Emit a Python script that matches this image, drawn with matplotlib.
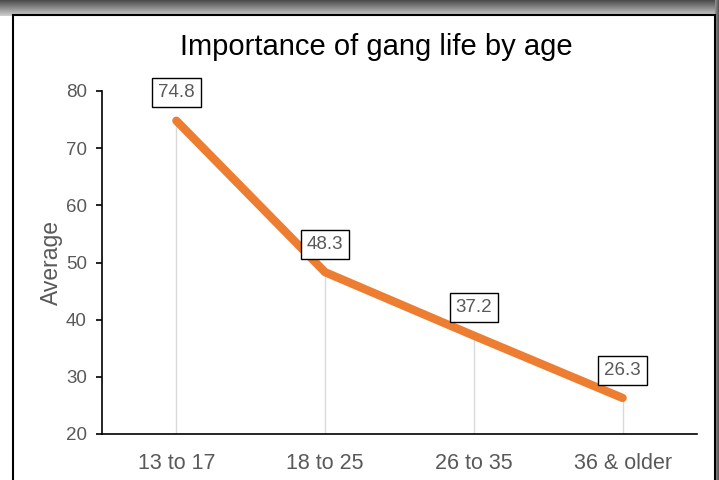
import matplotlib
matplotlib.use("Agg")
import matplotlib.pyplot as plt
import numpy as np
from matplotlib.patches import Rectangle

categories = ["13 to 17", "18 to 25", "26 to 35", "36 & older"]
averages = [74.8, 48.3, 37.2, 26.3]
y_ticks = [20, 30, 40, 50, 60, 70, 80]

plt.rcParams["font.family"] = ["Liberation Sans", "DejaVu Sans"]
GRAY = "#595959"
ORANGE = "#ED7D31"

fig = plt.figure(figsize=(7.19, 4.80), dpi=100)

# background: dark shadow at top/right, white card with black border
bg = fig.add_axes([0, 0, 1, 1], zorder=-10)
bg.axis("off")
grad = np.linspace(0.30, 0.80, 16)[:, None] * np.ones((1, 719))
bg.imshow(np.dstack([grad] * 3), extent=(0, 719, 16, 0), aspect="auto")
rgrad = np.ones((480, 1)) * np.linspace(0.55, 0.35, 4)[None, :]
bg.imshow(np.dstack([rgrad] * 3), extent=(715, 719, 480, 0), aspect="auto")
bg.add_patch(Rectangle((13, 15), 702, 470, facecolor="white",
                       edgecolor="black", linewidth=1.5))
bg.set_xlim(0, 719)
bg.set_ylim(480, 0)

ax = fig.add_axes([102 / 719, 1 - 434 / 480, 595 / 719, 343 / 480])
ax.set_facecolor("none")
x = np.arange(len(categories))

ax.vlines(x, 20, averages, color="#d9d9d9", linewidth=1.0, zorder=1)
ax.plot(x, averages, color=ORANGE, linewidth=6.0, solid_capstyle="round",
        solid_joinstyle="round", zorder=3)

for xi, v in zip(x, averages):
    ax.annotate(f"{v:.1f}", (xi, v), xytext=(0, 20), textcoords="offset points",
                ha="center", va="center", fontsize=13.5, color=GRAY, zorder=4,
                bbox=dict(boxstyle="square,pad=0.32", facecolor="white",
                          edgecolor="black", linewidth=1.0))

ax.set_xlim(-0.5, 3.5)
ax.set_ylim(20, 80)
ax.set_xticks(x)
ax.set_xticklabels(categories)
ax.set_yticks(y_ticks)
ax.tick_params(axis="x", length=0, pad=14, labelsize=15.5, labelcolor=GRAY)
ax.tick_params(axis="y", length=4, width=1.2, pad=7, labelsize=13.5,
               labelcolor=GRAY)
for s in ["top", "right"]:
    ax.spines[s].set_visible(False)
ax.spines["left"].set_linewidth(1.2)
ax.spines["bottom"].set_linewidth(1.2)
ax.set_ylabel("Average", fontsize=16.5, color=GRAY)
ax.yaxis.set_label_coords(-0.066, 0.5)

fig.text(376 / 719, 1 - 47 / 480, "Importance of gang life by age",
         ha="center", va="center", fontsize=21, color="black")

fig.savefig("out.png", dpi=100)
